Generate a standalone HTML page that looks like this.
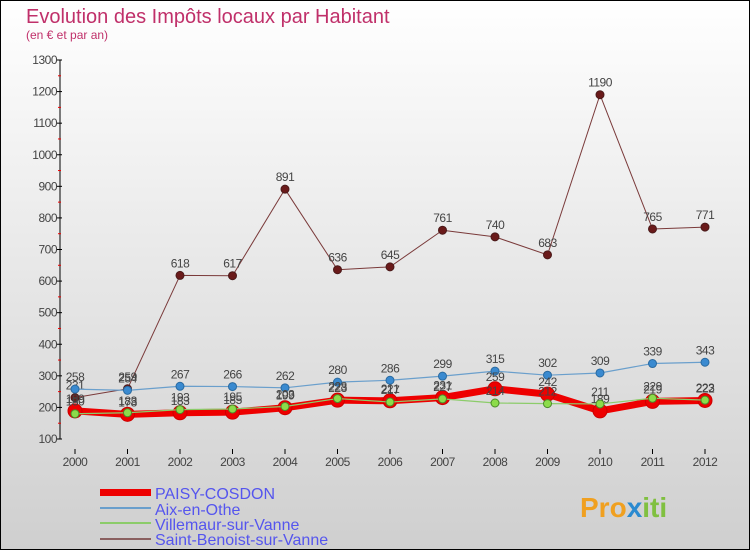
<!DOCTYPE html>
<html><head><meta charset="utf-8"><style>
html,body{margin:0;padding:0}
body{width:750px;height:550px;overflow:hidden;font-family:"Liberation Sans",sans-serif}
</style></head><body>
<svg id="chart" width="750" height="550" xmlns="http://www.w3.org/2000/svg">
<defs><linearGradient id="bg" x1="0" y1="0" x2="0" y2="1"><stop offset="0" stop-color="#ffffff"/><stop offset="1" stop-color="#cfcfcf"/></linearGradient></defs>
<rect x="0.5" y="0.5" width="749" height="549" fill="url(#bg)" stroke="#000" stroke-width="1"/>
<text x="26" y="23" font-size="20" fill="#c0306a">Evolution des Impôts locaux par Habitant</text>
<text x="26" y="39" font-size="12" fill="#c0306a">(en € et par an)</text>
<g id="axes"></g>
<g id="series"></g>
<g id="legend">
<rect x="100" y="489" width="51" height="7" fill="#ee0000"/>
<text x="155" y="499" font-size="16" fill="#5555ee">PAISY-COSDON</text>
<rect x="100" y="507" width="51" height="2" fill="#6a9fcc"/>
<text x="155" y="515" font-size="16" fill="#5555ee">Aix-en-Othe</text>
<rect x="100" y="522" width="51" height="2" fill="#8ccc6a"/>
<text x="155" y="530" font-size="16" fill="#5555ee">Villemaur-sur-Vanne</text>
<rect x="100" y="538" width="51" height="2" fill="#8a6060"/>
<text x="155" y="545" font-size="16" fill="#5555ee">Saint-Benoist-sur-Vanne</text>
</g>
<text x="580" y="517" font-size="28" font-weight="bold" fill="#f0a020">Pro<tspan fill="#2a8ad0">x</tspan><tspan fill="#80c040">iti</tspan></text>
</svg>
<script>
const years=[2000,2001,2002,2003,2004,2005,2006,2007,2008,2009,2010,2011,2012];
const yTicks=[100,200,300,400,500,600,700,800,900,1000,1100,1200,1300];
const paisy=[189,178,183,185,199,223,221,231,259,242,189,219,222];
const aix=[258,254,267,266,262,280,286,299,315,302,309,339,343];
const villemaur=[180,183,193,195,203,228,217,227,214,212,211,229,223];
const saintBenoist=[231,259,618,617,891,636,645,761,740,683,1190,765,771];
const NS="http://www.w3.org/2000/svg";
const x=i=>75+i*52.5;
const y=v=>439-(v-100)*(379/1200);
function mk(t,a,p){const e=document.createElementNS(NS,t);for(const k in a)e.setAttribute(k,a[k]);p.appendChild(e);return e;}
const ax=document.getElementById('axes');
let l=mk('line',{x1:60,y1:60,x2:60,y2:439,stroke:'#000'},ax);


yTicks.forEach(v=>{
 const t=mk('line',{x1:57,y1:y(v),x2:62,y2:y(v),stroke:'#000'},ax);
 
 
 if(v<1300){const m=mk('line',{x1:58,y1:y(v+50),x2:61,y2:y(v+50),stroke:'#e00'},ax);
 
 }
 const tx=mk('text',{x:57,y:y(v)+4,'font-size':12,'text-anchor':'end',fill:'#444','letter-spacing':'-0.5'},ax);
 
 
 tx.textContent=v;
});
years.forEach((yr,i)=>{
 const t=mk('line',{x1:x(i),y1:449,x2:x(i),y2:454,stroke:'#000'},ax);
 
 
 const tx=mk('text',{x:x(i),y:466,'font-size':12,'text-anchor':'middle',fill:'#444','letter-spacing':'-0.5'},ax);
 
 
 tx.textContent=yr;
});
const sg=document.getElementById('series');
function series(vals,name,color,w,dot,dotFill,r){
 const g=mk('g',{},sg);
 
 
 const p=mk('polyline',{points:vals.map((v,i)=>x(i)+','+y(v)).join(' '),fill:'none',stroke:color,'stroke-width':w,'stroke-linejoin':'round'},g);
 
 
 vals.forEach((v,i)=>{
  const c=mk('circle',{cx:x(i),cy:y(v),r:r,fill:dotFill,stroke:dot,'stroke-width':1},g);
  
  
  const t=mk('text',{x:x(i),y:y(v)-8,'font-size':12,'text-anchor':'middle',fill:'#444','letter-spacing':'-0.5'},g);
  
  
  t.textContent=v;
 });
}
series(saintBenoist,'saint-benoist','#7a3a3a',1,'#4a1a1a','#6a1a1a',4);
series(aix,'aix','#6a9fcc',1.2,'#2a6aa0','#3a8ad0',4);
series(paisy,'paisy','#ee0000',7,'#cc0000','#ee0000',7);
series(villemaur,'villemaur','#8ccc6a',1.2,'#4a8a2a','#8cdc4a',4);
</script>
</body></html>
